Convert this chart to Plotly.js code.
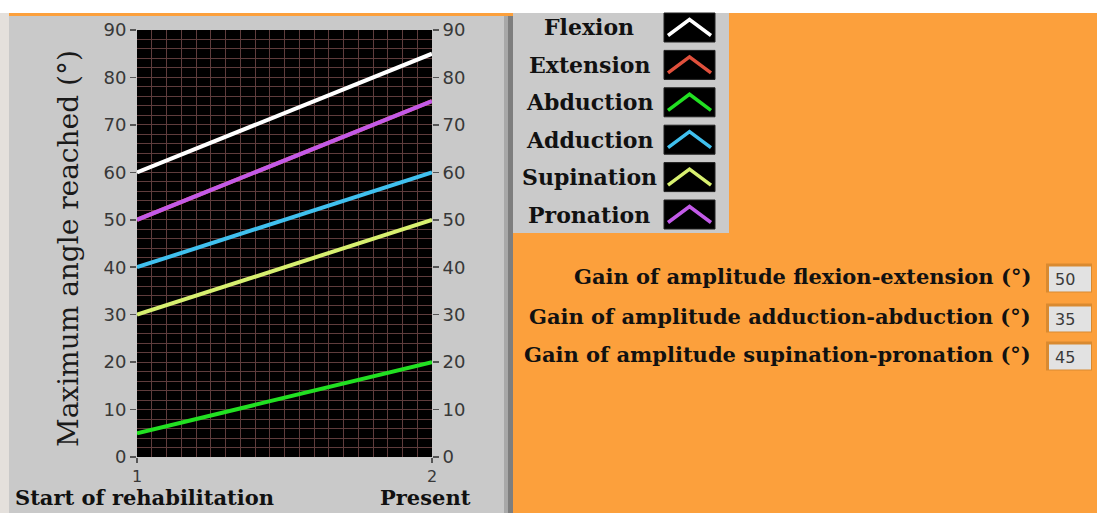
<!DOCTYPE html>
<html>
<head>
<meta charset="utf-8">
<script src="https://cdn.plot.ly/plotly-3.0.1.min.js"></script>
<style>
  html, body { margin: 0; padding: 0; background: #ffffff; }
  #chart { width: 1097px; height: 513px; }
</style>
</head>
<body>
<div id="chart"></div>
<script>
// ---- data ----
const sessions = [1, 2];
const sessionLabels = ["Start of rehabilitation", "Present"];
const seriesNames = ["Flexion", "Extension", "Abduction", "Adduction", "Supination", "Pronation"];
const flexion = [60, 85];
const extension = [50, 75];
const abduction = [5, 20];
const adduction = [40, 60];
const supination = [30, 50];
const pronation = [50, 75];
const gainLabels = [
  "Gain of amplitude flexion-extension (°)",
  "Gain of amplitude adduction-abduction (°)",
  "Gain of amplitude supination-pronation (°)"
];
const gainValues = [50, 35, 45];
const yTickVals = [0, 10, 20, 30, 40, 50, 60, 70, 80, 90];

// ---- styles ----
const seriesColors = ["#ffffff", "#e0503c", "#22e022", "#40c0ee", "#d8f070", "#c25ae8"];
const seriesData = [flexion, extension, abduction, adduction, supination, pronation];

const W = 1097, H = 513;
const px = x => x / W;
const py = y => 1 - y / H;

const traces = seriesData.map((vals, i) => ({
  type: "scatter", mode: "lines",
  x: sessions, y: vals,
  name: seriesNames[i],
  line: { color: seriesColors[i], width: 4 },
  xaxis: "x", yaxis: "y",
  showlegend: false, hoverinfo: "skip"
}));
// trace that makes the right-hand axis exist
traces.push({ type: "scatter", mode: "lines", x: sessions, y: abduction, xaxis: "x", yaxis: "y2",
  line: { color: "rgba(0,0,0,0)", width: 0 }, showlegend: false, hoverinfo: "skip" });

const tickFont = { family: "DejaVu Sans", size: 18, color: "#383838" };
const gridCol = "#5e3c3c";

const shapes = [];
const annotations = [];

// backgrounds
shapes.push({ type: "rect", xref: "paper", yref: "paper", x0: 0, x1: 1, y0: py(13), y1: 1,
  fillcolor: "#ffffff", line: { width: 0 }, layer: "below" });
shapes.push({ type: "rect", xref: "paper", yref: "paper", x0: 0, x1: px(9), y0: 0, y1: py(13),
  fillcolor: "#e4e0dc", line: { width: 0 }, layer: "below" });
shapes.push({ type: "rect", xref: "paper", yref: "paper", x0: px(9), x1: px(504), y0: 0, y1: py(16),
  fillcolor: "#c9c9c9", line: { width: 0 }, layer: "below" });
shapes.push({ type: "rect", xref: "paper", yref: "paper", x0: px(504), x1: px(508), y0: 0, y1: py(16),
  fillcolor: "#a8a8a8", line: { width: 0 }, layer: "below" });
shapes.push({ type: "rect", xref: "paper", yref: "paper", x0: px(508), x1: px(513), y0: 0, y1: py(16),
  fillcolor: "#7e7e7e", line: { width: 0 }, layer: "below" });
// plot area background (black, under the grid)
shapes.push({ type: "rect", xref: "x domain", yref: "y domain", x0: 0, x1: 1, y0: 0, y1: 1,
  fillcolor: "#000000", line: { width: 0 }, layer: "below" });
// legend panel
shapes.push({ type: "rect", xref: "paper", yref: "paper", x0: px(513), x1: px(729), y0: py(233), y1: py(13),
  fillcolor: "#cacaca", line: { width: 0 }, layer: "below" });

// legend entries
const legStep = 37.4, legTop = 27.5;
seriesNames.forEach((name, i) => {
  const yc = legTop + i * legStep;
  shapes.push({ type: "rect", xref: "paper", yref: "paper",
    x0: px(664), x1: px(715), y0: py(yc + 14.5), y1: py(yc - 14.5),
    fillcolor: "#000000", line: { color: "#202020", width: 1 } });
  shapes.push({ type: "path", xref: "paper", yref: "paper",
    path: `M ${px(668)} ${py(yc + 8)} L ${px(689.5)} ${py(yc - 8)} L ${px(711)} ${py(yc + 8)}`,
    line: { color: seriesColors[i], width: 3.5 } });
  annotations.push({ xref: "paper", yref: "paper", x: px(589), y: py(yc), xanchor: "center", yanchor: "middle",
    text: "<b>" + name + "</b>", showarrow: false,
    font: { family: "DejaVu Serif", size: 22, color: "#111111" } });
});

// gain rows
const gainCenters = [278, 318, 356];
gainLabels.forEach((lab, i) => {
  const yc = gainCenters[i];
  annotations.push({ xref: "paper", yref: "paper", x: px(1033), y: py(yc - 2), xanchor: "right", yanchor: "middle",
    text: "<b>" + lab + "</b>", showarrow: false,
    font: { family: "DejaVu Serif", size: 21, color: "#111111" } });
  shapes.push({ type: "rect", xref: "paper", yref: "paper",
    x0: px(1046), x1: px(1092), y0: py(yc + 14.5), y1: py(yc - 14.5),
    fillcolor: "#d98a30", line: { width: 0 } });
  shapes.push({ type: "rect", xref: "paper", yref: "paper",
    x0: px(1049), x1: px(1091), y0: py(yc + 13.5), y1: py(yc - 11.5),
    fillcolor: "#e2e2e2", line: { width: 0 } });
  annotations.push({ xref: "paper", yref: "paper", x: px(1053), y: py(yc + 1), xanchor: "left", yanchor: "middle",
    text: String(gainValues[i]), showarrow: false,
    font: { family: "DejaVu Sans", size: 16, color: "#3a3a3a" } });
});

// axis names
annotations.push({ xref: "paper", yref: "paper", x: px(68), y: py(249), xanchor: "center", yanchor: "middle",
  text: "Maximum angle reached (°)", textangle: -90, showarrow: false,
  font: { family: "DejaVu Serif", size: 28, color: "#1a1a1a" } });
annotations.push({ xref: "paper", yref: "paper", x: px(13), y: py(512), xanchor: "left", yanchor: "bottom",
  text: "<b>" + sessionLabels[0] + "</b>", showarrow: false,
  font: { family: "DejaVu Serif", size: 21, color: "#111111" } });
annotations.push({ xref: "paper", yref: "paper", x: px(473), y: py(512), xanchor: "right", yanchor: "bottom",
  text: "<b>" + sessionLabels[1] + "</b>", showarrow: false,
  font: { family: "DejaVu Serif", size: 21, color: "#111111" } });

const yAxisCommon = {
  range: [0, 90], tickvals: yTickVals, ticktext: yTickVals.map(String),
  ticks: "outside", ticklen: 6, tickwidth: 1.5, tickcolor: "#555555",
  tickfont: tickFont, zeroline: false, showline: false, fixedrange: true
};

const layout = {
  width: W, height: H,
  margin: { l: 0, r: 0, t: 0, b: 0 },
  paper_bgcolor: "#fca03c",
  plot_bgcolor: "#000000",
  showlegend: false,
  xaxis: {
    domain: [px(137), px(432)], range: [1, 2],
    tickvals: sessions, ticktext: sessions.map(String),
    ticks: "outside", ticklen: 5, tickwidth: 1.5, tickcolor: "#555555",
    tickfont: { family: "DejaVu Sans", size: 16, color: "#383838" },
    showgrid: true, gridcolor: gridCol, gridwidth: 1,
    minor: { dtick: 0.05, showgrid: true, gridcolor: gridCol, gridwidth: 1, ticks: "" },
    zeroline: false, showline: false, fixedrange: true
  },
  yaxis: Object.assign({}, yAxisCommon, {
    domain: [py(457), py(30)], side: "left",
    showgrid: true, gridcolor: gridCol, gridwidth: 1,
    minor: { dtick: 2, showgrid: true, gridcolor: gridCol, gridwidth: 1, ticks: "" }
  }),
  yaxis2: Object.assign({}, yAxisCommon, {
    overlaying: "y", side: "right", anchor: "x", showgrid: false
  }),
  shapes: shapes,
  annotations: annotations
};

Plotly.newPlot("chart", traces, layout, { staticPlot: true, displayModeBar: false });
</script>
</body>
</html>
